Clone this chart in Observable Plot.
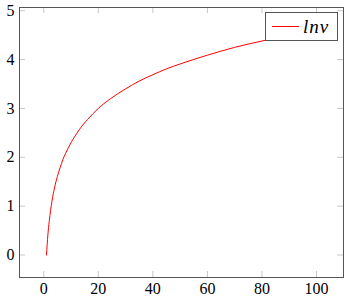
<!DOCTYPE html>
<html>
<head>
<meta charset="utf-8">
<script src="https://cdn.jsdelivr.net/npm/d3@7"></script>
<script src="https://cdn.jsdelivr.net/npm/@observablehq/plot@0.6"></script>
<style>
  body { margin: 0; background: #fff; }
  #wrap { position: relative; width: 349px; height: 298px; }
  #wrap svg text { font-family: "Liberation Serif", serif; }
  #legend {
    position: absolute; left: 265px; top: 12px; width: 73px; height: 29px;
    box-sizing: border-box; border: 1px solid #555; background: #fff;
    font-family: "Liberation Serif", serif; font-size: 19px;
  }
  #legend .swatch { position: absolute; left: 6px; top: 13px; width: 27px; height: 0; border-top: 1px solid #ff0000; }
  #legend .lab { position: absolute; left: 37px; top: 4px; font-style: italic; line-height: 19px; letter-spacing: 1px; white-space: nowrap; }
</style>
</head>
<body>
<div id="wrap"></div>
<script>
// values
const nu = [1, 1.5, 2, 3, 4, 5, 6, 7, 8, 10, 12, 14, 16, 18, 20, 25, 30, 35, 40, 45, 50, 60, 70, 80, 90, 100];
const lnNu = [0, 0.41, 0.69, 1.10, 1.39, 1.61, 1.79, 1.95, 2.08, 2.30, 2.48, 2.64, 2.77, 2.89, 3.00, 3.22, 3.40, 3.56, 3.69, 3.81, 3.91, 4.09, 4.25, 4.38, 4.50, 4.61];
const xTicks = [0, 20, 40, 60, 80, 100];
const yTicks = [0, 1, 2, 3, 4, 5];
const seriesName = "lnν";

const data = nu.map((v, i) => ({v, y: lnNu[i]}));
const font = "'Liberation Serif', serif";
const W = 349, H = 298, mL = 19, mR = 6, mT = 7, mB = 21;
const innerH = H - mT - mB, innerW = W - mL - mR;
const tickLen = 6;

const chart = Plot.plot({
  width: W, height: H,
  marginLeft: mL, marginRight: mR, marginTop: mT, marginBottom: mB,
  style: {fontFamily: font, fontSize: "16px", background: "#fff", color: "#000"},
  x: {domain: [-8.9, 109.9]},
  y: {domain: [-0.4605, 5.0657]},
  marks: [
    Plot.tickX(xTicks, {x: d => d, stroke: "#c8c8c8", insetTop: innerH - tickLen}),
    Plot.tickX(xTicks, {x: d => d, stroke: "#c8c8c8", insetBottom: innerH - tickLen}),
    Plot.tickY(yTicks, {y: d => d, stroke: "#c8c8c8", insetRight: innerW - tickLen}),
    Plot.tickY(yTicks, {y: d => d, stroke: "#c8c8c8", insetLeft: innerW - tickLen}),
    Plot.frame({stroke: "#555"}),
    Plot.axisX(xTicks, {tickSize: 0, tickPadding: 5, label: null, fontSize: 16}),
    Plot.axisY(yTicks, {tickSize: 0, tickPadding: 5, label: null, fontSize: 16}),
    Plot.line(data, {x: "v", y: "y", stroke: "#ff0000", strokeWidth: 1, curve: "monotone-x"})
  ]
});
const wrap = document.getElementById("wrap");
wrap.appendChild(chart);
const leg = document.createElement("div");
leg.id = "legend";
leg.innerHTML = '<div class="swatch"></div><div class="lab"></div>';
leg.querySelector(".lab").textContent = seriesName;
wrap.appendChild(leg);
</script>
</body>
</html>
